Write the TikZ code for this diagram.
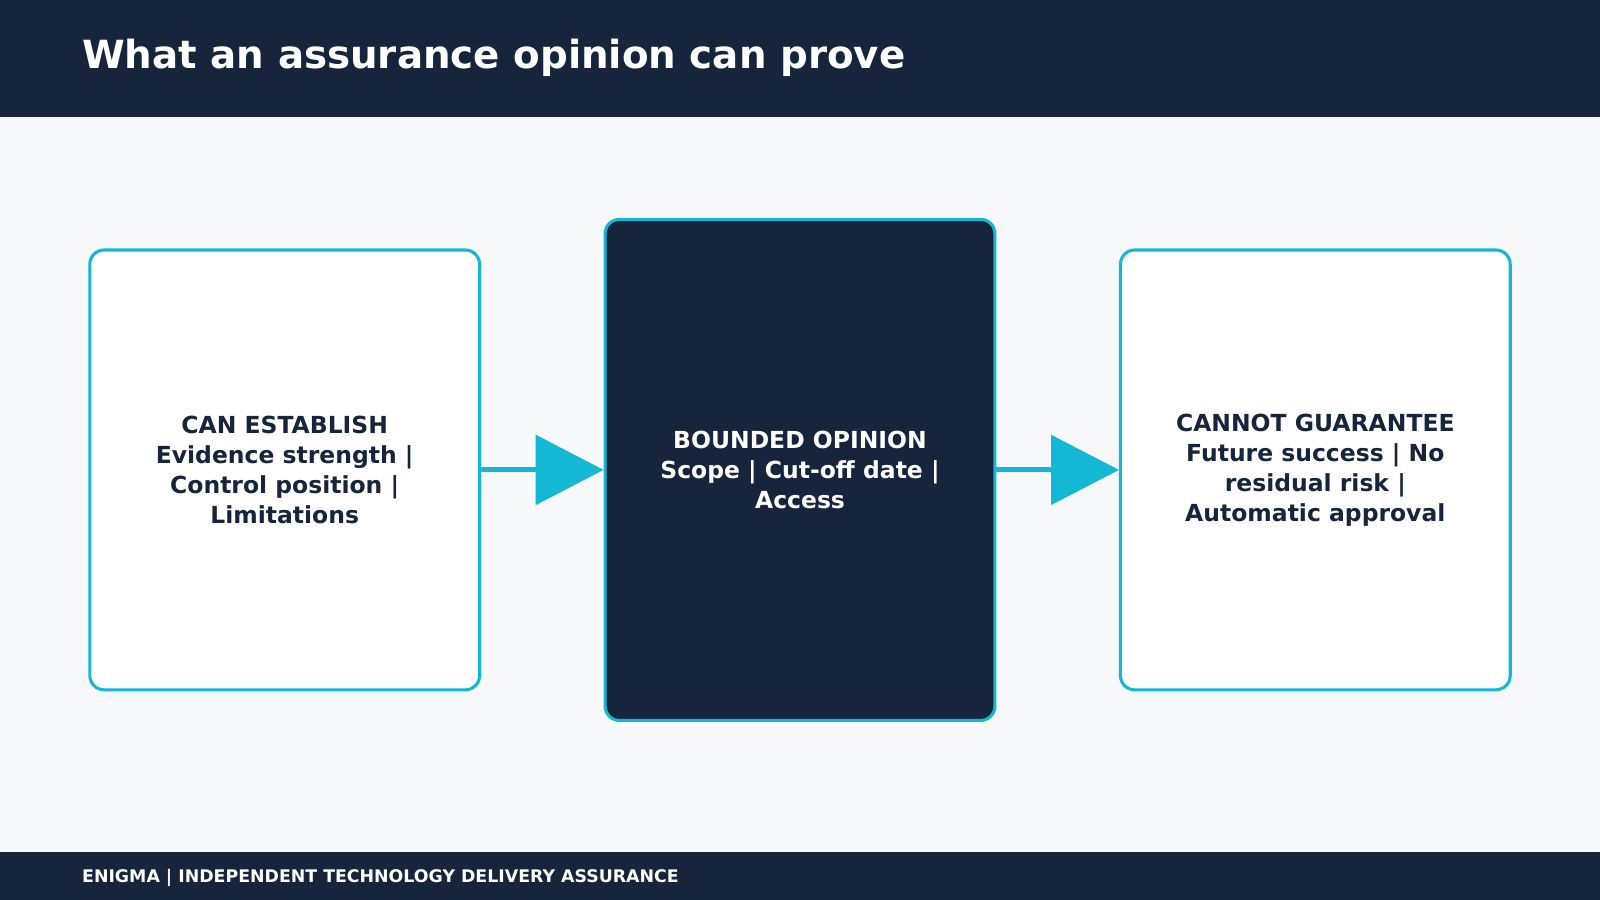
\documentclass[tikz,border=0pt]{standalone}
\usepackage{fontspec}
\setmainfont{DejaVu Sans}
\definecolor{navy}{HTML}{16243C}
\definecolor{cyan1}{HTML}{14B8D4}
\definecolor{bg}{HTML}{F7F8FA}
\begin{document}
\begin{tikzpicture}[x=1pt,y=-1pt,
  box/.style={draw=cyan1,line width=3pt,rounded corners=14pt,align=center,font=\fontsize{23}{29.5}\selectfont\bfseries},
  conn/.style={cyan1,line width=5pt},
  head/.style={fill=cyan1}]
\useasboundingbox (0,0) rectangle (1568,882);
\fill[bg] (0,0) rectangle (1568,882);
\fill[navy] (0,0) rectangle (1568,115);
\fill[navy] (0,835) rectangle (1568,882);
\node[anchor=west,text=white,font=\fontsize{38}{44}\selectfont\bfseries] (title) at (77,57) {What an assurance opinion can prove};
\node[anchor=west,text=white,font=\fontsize{17}{20}\selectfont\bfseries] (foot) at (77,860) {ENIGMA | INDEPENDENT TECHNOLOGY DELIVERY ASSURANCE};
\node[box,fill=white,text=navy,minimum width=382pt,minimum height=431pt] (a) at (279,460.5) {CAN ESTABLISH\\Evidence strength |\\Control position |\\Limitations};
\node[box,fill=navy,text=white,minimum width=382pt,minimum height=491pt] (b) at (784,460.5) {BOUNDED OPINION\\Scope | Cut-off date |\\Access};
\node[box,fill=white,text=navy,minimum width=382pt,minimum height=431pt] (c) at (1289,460.5) {CANNOT GUARANTEE\\Future success | No\\residual risk |\\Automatic approval};
\coordinate (t1) at (525,460.5);
\coordinate (t2) at (1030,460.5);
\draw[conn] (a.east) -- (t1);
\fill[head] (525,426) -- (b.west) -- (525,495) -- cycle;
\draw[conn] (b.east) -- (t2);
\fill[head] (1030,426) -- (c.west) -- (1030,495) -- cycle;
\end{tikzpicture}
\end{document}
